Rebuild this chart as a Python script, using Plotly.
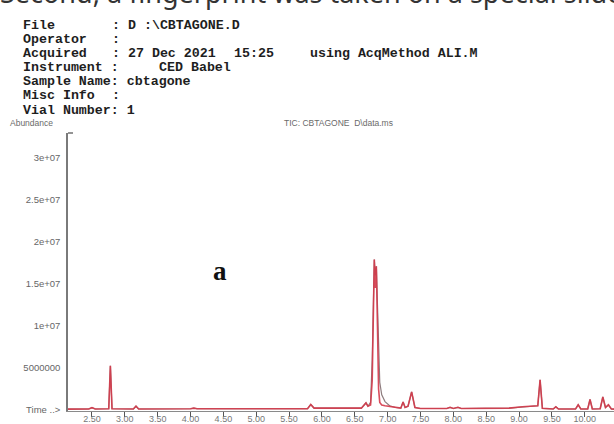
import plotly.graph_objects as go

# ---- data (retention time in minutes, abundance in millions of counts) ----
rt_min = [2.135, 2.45, 2.50, 2.55, 2.755, 2.78, 2.805, 3.13, 3.17, 3.21,
          4.00, 4.05, 4.10, 5.78, 5.83, 5.88,
          6.60, 6.67, 6.70, 6.74, 6.765, 6.782, 6.797, 6.812, 6.828, 6.845,
          6.862, 6.88, 6.91, 6.96, 7.03, 7.12,
          7.20, 7.235, 7.265, 7.31, 7.365, 7.415, 7.50, 7.90, 7.95, 8.00,
          8.07, 8.12, 8.85, 9.05, 9.20, 9.285, 9.32, 9.355, 9.52, 9.56,
          9.60, 9.86, 9.90, 9.94, 10.045, 10.08, 10.115, 10.235, 10.275, 10.315,
          10.36, 10.405, 10.445]

tic_outer_m = [0.10, 0.12, 0.28, 0.12, 0.15, 5.25, 0.15, 0.12, 0.45, 0.12,
               0.15, 0.22, 0.15, 0.15, 0.65, 0.22,
               0.22, 0.85, 0.45, 0.90, 6.0, 15.0, 17.9, 16.0, 17.1, 12.5,
               6.5, 3.3, 1.8, 1.0, 0.5, 0.30,
               0.22, 0.95, 0.30, 0.45, 2.15, 0.30, 0.18, 0.18, 0.32, 0.18,
               0.32, 0.18, 0.22, 0.38, 0.42, 0.50, 3.6, 0.20, 0.12, 0.38,
               0.12, 0.12, 0.62, 0.12, 0.12, 1.25, 0.12, 0.15, 1.55, 0.30,
               0.62, 0.12, 0.10]

tic_inner_m = [0.10, 0.12, 0.28, 0.12, 0.15, 5.25, 0.15, 0.12, 0.45, 0.12,
               0.15, 0.22, 0.15, 0.15, 0.65, 0.22,
               0.22, 0.85, 0.45, 0.60, 3.5, 14.0, 17.9, 14.5, 17.1, 10.0,
               2.5, 0.9, 0.6, 0.5, 0.4, 0.30,
               0.22, 0.95, 0.30, 0.45, 2.15, 0.30, 0.18, 0.18, 0.32, 0.18,
               0.32, 0.18, 0.22, 0.38, 0.42, 0.50, 3.6, 0.20, 0.12, 0.38,
               0.12, 0.12, 0.62, 0.12, 0.12, 1.25, 0.12, 0.15, 1.55, 0.30,
               0.62, 0.12, 0.10]

x_tick_vals = [2.5, 3.0, 3.5, 4.0, 4.5, 5.0, 5.5, 6.0, 6.5, 7.0, 7.5, 8.0, 8.5, 9.0, 9.5, 10.0]
x_tick_text = ["2.50", "3.00", "3.50", "4.00", "4.50", "5.00", "5.50", "6.00", "6.50",
               "7.00", "7.50", "8.00", "8.50", "9.00", "9.50", "10.00"]
y_tick_vals = [0, 5e6, 1e7, 1.5e7, 2e7, 2.5e7, 3e7]
y_tick_text = ["Time ..>", "5000000", "1e+07", "1.5e+07", "2e+07", "2.5e+07", "3e+07"]

header_rows = [
    ("File", ": D :\\CBTAGONE.D"),
    ("Operator", ":"),
    ("Acquired", ": 27 Dec 2021"),
    ("Instrument :", ""),
    ("Sample Name: cbtagone", None),
    ("Misc Info", ":"),
    ("Vial Number: 1", None),
]

# ---- layout geometry (pixels) ----
W, H = 614, 424
L, R, T, B = 68, 614, 133, 414
PW, PH = R - L, B - T


def xp(px):
    return (px - L) / PW


def yp(py):
    return (B - py) / PH


fig = go.Figure()
fig.add_trace(go.Scatter(x=rt_min, y=[v * 1e6 for v in tic_outer_m], mode="lines",
                         line=dict(color="#8e7c7e", width=1.2), hoverinfo="skip"))
fig.add_trace(go.Scatter(x=rt_min, y=[v * 1e6 for v in tic_inner_m], mode="lines",
                         line=dict(color="#d43a4b", width=1.6), opacity=0.9, hoverinfo="skip"))

ann = []
mono = dict(family="Courier New, Liberation Mono, monospace", size=13.3, color="#1e1e1e")
row_y0, row_dy = 24, 14.3
for i, (lab, val) in enumerate(header_rows):
    y = row_y0 + i * row_dy
    ann.append(dict(x=xp(21), y=yp(y), text="<b>%s</b>" % lab, font=mono))
    if val is not None and val != "":
        ann.append(dict(x=xp(110), y=yp(y), text="<b>%s</b>" % val, font=mono))
# extra segments
ann.append(dict(x=xp(232), y=yp(row_y0 + 2 * row_dy), text="<b>15:25</b>", font=mono))
ann.append(dict(x=xp(308), y=yp(row_y0 + 2 * row_dy), text="<b>using AcqMethod ALI.M</b>", font=mono))
ann.append(dict(x=xp(157), y=yp(row_y0 + 3 * row_dy), text="<b>CED Babel</b>", font=mono))

small = dict(family="Liberation Sans, Arial, sans-serif", size=8.5, color="#6a6a6a")
ann.append(dict(x=xp(8), y=yp(123), text="Abundance", font=small))
ann.append(dict(x=xp(282), y=yp(123), text="TIC: CBTAGONE  D\\data.ms", font=small))
ann.append(dict(x=xp(-2), y=yp(-9), text="Second, a fingerprint was taken on a special slide",
                font=dict(family="Noto Sans, Lato, sans-serif", size=27, color="#333333")))
ann.append(dict(x=xp(220), y=yp(272), text="<b>a</b>", xanchor="center",
                font=dict(family="Liberation Serif, Times New Roman, serif", size=27, color="#111111")))

for a in ann:
    a.setdefault("xref", "paper")
    a.setdefault("yref", "paper")
    a.setdefault("xanchor", "left")
    a.setdefault("yanchor", "middle")
    a["showarrow"] = False

fig.update_layout(
    width=W, height=H,
    margin=dict(l=L, r=W - R, t=T, b=H - B, pad=0),
    paper_bgcolor="white", plot_bgcolor="white",
    showlegend=False,
    annotations=ann,
    shapes=[dict(type="line", xref="paper", yref="paper", x0=0, x1=xp(73), y0=1, y1=1,
                 line=dict(color="#707070", width=1.5))],
    xaxis=dict(range=[2.135, 10.445], showgrid=False, zeroline=False,
               showline=True, linecolor="#8a8a8a", linewidth=1.2,
               tickvals=x_tick_vals, ticktext=x_tick_text,
               ticks="outside", ticklen=5, tickcolor="#555555", tickwidth=1,
               ticklabelstandoff=-6,
               tickfont=dict(family="Liberation Sans, Arial, sans-serif", size=9, color="#777777")),
    yaxis=dict(range=[-0.118e6, 32.94e6], showgrid=False, zeroline=False,
               showline=True, linecolor="#7a7a7a", linewidth=1.5,
               tickvals=y_tick_vals, ticktext=y_tick_text,
               ticks="", ticklabelstandoff=4,
               tickfont=dict(family="Liberation Sans, Arial, sans-serif", size=9.5, color="#666666")),
)

fig.write_html("out.html")
